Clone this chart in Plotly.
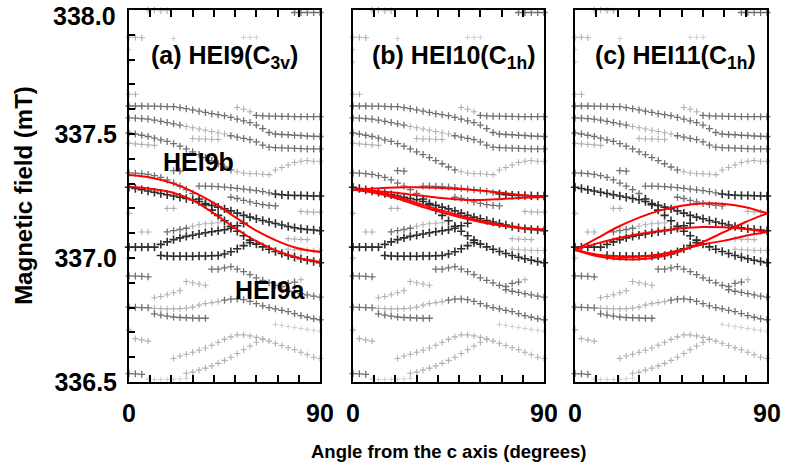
import plotly.graph_objects as go

STEP = 3  # angular step of the measured points (degrees)

# ---- experimental line positions (mT), each branch: start angle, values every 3 deg ----
T1 = (9, [338.0, 338.0, 337.997, 337.997])
T2 = (78, [337.99, 337.99, 337.99, 337.99, 337.99])
T3 = (0, [337.89, 337.89, 337.888])
T3b = (21, [337.885])
T3c = (54, [337.89, 337.89, 337.89])
T4a = (0, [337.84])
T4b = (0, [337.79])
T5 = (0, [337.66, 337.66])

R1 = (0, [337.613, 337.613, 337.613, 337.612, 337.612, 337.611, 337.61, 337.61,
          337.606, 337.602, 337.597, 337.592, 337.587, 337.582, 337.578, 337.574,
          337.567, 337.56, 337.553, 337.546, 337.536, 337.522, 337.506, 337.5,
          337.498, 337.497, 337.495, 337.494, 337.492, 337.491, 337.49])
R1b = (51, [337.607, 337.6, 337.59])
R1c = (60, [337.575, 337.573, 337.572, 337.572, 337.571, 337.571, 337.57, 337.57, 337.57, 337.57, 337.57])
R2a = (0, [337.565, 337.564, 337.562, 337.56, 337.556, 337.551, 337.546, 337.541, 337.536])
R2b = (27, [337.53, 337.525, 337.52, 337.515, 337.51, 337.505, 337.5])
R2c = (48, [337.493, 337.487, 337.482, 337.477, 337.468, 337.455, 337.447, 337.445,
            337.444, 337.443, 337.442, 337.441, 337.44, 337.44, 337.44])
R3 = (0, [337.504, 337.5, 337.495, 337.49, 337.483, 337.476, 337.47, 337.461, 337.451,
          337.44, 337.428, 337.417, 337.405, 337.393, 337.38, 337.367, 337.355])
R3b = (51, [337.348, 337.343, 337.34, 337.34, 337.338, 337.336])
R3c = (0, [337.462, 337.46, 337.458, 337.456, 337.454])
R3d = (30, [337.482, 337.48, 337.48, 337.479, 337.478])
L7 = (69, [337.355, 337.365, 337.375, 337.385, 337.39, 337.393, 337.39, 337.39])
S1 = (21, [337.352, 337.35])
R4a = (0, [337.343, 337.342, 337.34, 337.337, 337.332, 337.325, 337.315, 337.302, 337.29, 337.276, 337.26])
R4b = (33, [337.238, 337.215, 337.193, 337.172, 337.15, 337.128, 337.108, 337.09, 337.072, 337.056,
            337.045, 337.035, 337.026, 337.018, 337.01, 337.003, 336.997, 336.991, 336.986, 336.981])
R5 = (0, [337.285, 337.28, 337.275, 337.27, 337.265, 337.26, 337.255, 337.25, 337.245, 337.24,
          337.235, 337.228, 337.22, 337.212, 337.205, 337.198, 337.19, 337.181, 337.172, 337.165,
          337.158, 337.151, 337.145, 337.139, 337.133, 337.127, 337.122, 337.118, 337.115, 337.113, 337.11])
R6a = (33, [337.29, 337.29, 337.289, 337.288, 337.286, 337.284, 337.281, 337.278, 337.275, 337.272, 337.268, 337.263])
R6b = (69, [337.258, 337.255, 337.253, 337.252, 337.252, 337.251, 337.25, 337.25])
R7 = (48, [337.245, 337.24, 337.232, 337.226, 337.22, 337.215, 337.212, 337.21])
L1 = (0, [337.044, 337.044, 337.044, 337.044, 337.044])
C1 = (15, [337.055, 337.065, 337.074, 337.081, 337.087, 337.092, 337.097, 337.102, 337.106,
           337.11, 337.114, 337.12, 337.13, 337.14])
D1 = (15, [337.01, 337.008, 337.007, 337.007, 337.007, 337.007, 337.008, 337.008, 337.009,
           337.01, 337.016, 337.025, 337.037, 337.05, 337.062])
M1a = (18, [337.105, 337.11, 337.115, 337.12])
M1b = (30, [337.128, 337.134, 337.138, 337.14, 337.142])
M1c = (6, [337.105, 337.105])
Q1 = (18, [337.2, 337.2])
Q2 = (0, [337.18])
Q3 = (81, [337.188, 337.186, 337.185, 337.185])
Q4 = (75, [337.078, 337.076, 337.075, 337.074])
Q5 = (75, [337.035, 337.033, 337.032, 337.031, 337.03, 337.03])
Q6 = (0, [337.0])
M2 = (39, [336.955, 336.955, 336.96, 336.965, 336.955, 336.945, 336.933, 336.92, 336.91, 336.9, 336.89, 336.885])
M2b = (75, [336.898, 336.903])
M2c = (81, [336.912])
M3 = (72, [336.872, 336.866, 336.861, 336.856, 336.851, 336.846, 336.842])
M0 = (0, [336.928, 336.927, 336.926, 336.924])
LG = (27, [336.905, 336.9, 336.895, 336.89])
LR = (12, [336.84, 336.845, 336.852, 336.86, 336.868])
M4a = (0, [336.802, 336.801, 336.8, 336.799])
M4b = (12, [336.797, 336.796, 336.795, 336.795, 336.796, 336.798, 336.802, 336.81, 336.816, 336.82, 336.824])
M4c = (45, [336.83, 336.834, 336.835, 336.832, 336.825, 336.816, 336.807, 336.8, 336.795, 336.789,
            336.784, 336.776, 336.768, 336.761, 336.755, 336.751])
M5 = (12, [336.775, 336.77, 336.766, 336.762, 336.76, 336.759, 336.758, 336.757, 336.757])
L5 = (69, [336.732, 336.728, 336.724, 336.72, 336.716, 336.712, 336.708, 336.705])
Q7 = (0, [336.71])
Q8 = (3, [336.675, 336.67, 336.665])
L2 = (21, [336.595, 336.605, 336.612, 336.62, 336.628, 336.637, 336.648, 336.66, 336.672, 336.682,
           336.69, 336.69, 336.686, 336.68, 336.673, 336.665, 336.656, 336.647, 336.638, 336.63,
           336.62, 336.61, 336.6, 336.595])
L3 = (27, [336.535, 336.54, 336.548, 336.556, 336.565, 336.575, 336.587, 336.6, 336.615, 336.63,
           336.645, 336.66, 336.672])
L4 = (9, [336.512, 336.51, 336.51, 336.51, 336.51, 336.512, 336.515])
B0 = (0, [336.534, 336.533, 336.531])

DARK = [R5, R4b, R6b, L1, C1, D1]
MID = [R1, R1c, R2a, R2c, R3, R4a, R6a, R7, S1, M1a, M2, M2b, M3, M0, M4a, M4c, M5, B0, T2]
LIGHT = [T1, T3, T5, R1b, R2b, R3b, R3c, R3d, L7, M1b, M1c, Q1, Q2, Q3, Q4, Q5, Q6,
         M2c, LG, LR, M4b, Q7, Q8, L2, L3]
FAINT = [T3b, T3c, T4a, T4b, L5, L4]

# ---- simulated (red) curves ----
SIM_ANGLE = [0, 10, 20, 30, 40, 50, 60, 70, 80, 90]
A_UP = [337.335, 337.325, 337.303, 337.268, 337.222, 337.165, 337.11, 337.068, 337.038, 337.024]
A_LO = [337.287, 337.279, 337.265, 337.232, 337.18, 337.12, 337.068, 337.028, 337.0, 336.984]
B_1 = [337.275, 337.28, 337.284, 337.285, 337.283, 337.278, 337.272, 337.263, 337.253, 337.246]
B_2 = [337.275, 337.27, 337.263, 337.253, 337.243, 337.236, 337.234, 337.238, 337.243, 337.246]
B_3 = [337.275, 337.266, 337.248, 337.222, 337.196, 337.172, 337.15, 337.133, 337.121, 337.115]
B_4 = [337.275, 337.263, 337.242, 337.214, 337.188, 337.165, 337.145, 337.13, 337.12, 337.115]
C_1 = [337.032, 337.078, 337.125, 337.163, 337.192, 337.211, 337.22, 337.218, 337.205, 337.18]
C_2 = [337.032, 337.058, 337.08, 337.097, 337.11, 337.12, 337.125, 337.124, 337.117, 337.105]
C_3 = [337.032, 337.008, 336.996, 336.995, 337.005, 337.03, 337.065, 337.105, 337.145, 337.18]
C_4 = [337.032, 337.014, 337.005, 337.005, 337.015, 337.033, 337.055, 337.07, 337.09, 337.105]
SIMS = [[A_UP, A_LO], [B_1, B_2, B_3, B_4], [C_1, C_2, C_3, C_4]]

TITLES = ["<b>(a) HEI9(C<sub>3v</sub>)</b>", "<b>(b) HEI10(C<sub>1h</sub>)</b>",
          "<b>(c) HEI11(C<sub>1h</sub>)</b>"]
Y_TICKS = [336.5, 337.0, 337.5, 338.0]
Y_LABELS = ["336.5", "337.0", "337.5", ""]
Y_TOP_LABEL = "338.0"

FONT = "Liberation Sans, Arial, sans-serif"
SHADES = [(FAINT, "#d0d0d0", 4, 1.0), (LIGHT, "#b0b0b0", 4.5, 1.1),
          (MID, "#707070", 5, 1.3), (DARK, "#2e2e2e", 6, 1.6)]


def collect(branches):
    xs, ys = [], []
    for start, vals in branches:
        for i, v in enumerate(vals):
            xs.append(start + STEP * i)
            ys.append(v)
    return xs, ys


fig = go.Figure()
domains = [[0.0, 0.2994], [0.3511, 0.6505], [0.6991, 1.0]]
for p in range(3):
    xa = "x" if p == 0 else f"x{p+1}"
    ya = "y" if p == 0 else f"y{p+1}"
    for branches, col, size, lw in SHADES:
        xs, ys = collect(branches)
        fig.add_trace(go.Scatter(x=xs, y=ys, mode="markers", xaxis=xa, yaxis=ya,
                                 cliponaxis=False, showlegend=False, hoverinfo="skip",
                                 marker=dict(symbol="cross-thin", size=size,
                                             line=dict(width=lw, color=col))))
    for curve in SIMS[p]:
        fig.add_trace(go.Scatter(x=SIM_ANGLE, y=curve, mode="lines", xaxis=xa, yaxis=ya,
                                 line=dict(color="#ff0000", width=2, shape="spline"),
                                 showlegend=False, hoverinfo="skip"))

xt = list(range(0, 91, 10))
xtt = ["0"] + [""] * 8 + ["90"]
for p in range(3):
    key = "xaxis" if p == 0 else f"xaxis{p+1}"
    ykey = "yaxis" if p == 0 else f"yaxis{p+1}"
    ya = "y" if p == 0 else f"y{p+1}"
    xa = "x" if p == 0 else f"x{p+1}"
    fig.layout[key] = dict(domain=domains[p], range=[0, 90], anchor=ya, automargin=False,
                           tickvals=xt, ticktext=xtt, ticks="inside", ticklen=7,
                           tickwidth=2, tickcolor="black", showline=True, linewidth=2,
                           linecolor="black", mirror="ticks", showgrid=False, zeroline=False,
                           ticklabelstandoff=8, ticklabeloverflow="allow",
                           tickfont=dict(family=FONT, size=25, color="black", weight="bold"))
    ycfg = dict(domain=[0, 1], range=[336.5, 338.0], anchor=xa, showline=True, automargin=False,
                linewidth=2, linecolor="black", mirror=True, showgrid=False, zeroline=False)
    if p == 0:
        ycfg.update(tickvals=Y_TICKS, ticktext=Y_LABELS,
                    ticks="inside", ticklen=6, tickwidth=2, tickcolor="black",
                    ticklabelstandoff=5, ticklabeloverflow="allow",
                    minor=dict(dtick=0.1, ticks="inside", ticklen=6, tickwidth=1.5,
                               tickcolor="black"),
                    tickfont=dict(family=FONT, size=25, color="black", weight="bold"))
    else:
        ycfg.update(showticklabels=False, ticks="")
    fig.layout[ykey] = ycfg

annots = []
title_x = [9.5, 8.0, 8.5]
for p in range(3):
    xa = "x" if p == 0 else f"x{p+1}"
    ya = "y" if p == 0 else f"y{p+1}"
    annots.append(dict(text=TITLES[p], x=title_x[p], y=337.81, xref=xa, yref=ya,
                       xanchor="left", yanchor="middle", showarrow=False,
                       font=dict(family=FONT, size=25, color="black")))
annots.append(dict(text="<b>HEI9b</b>", x=15, y=337.387, xref="x", yref="y",
                   xanchor="left", yanchor="middle", showarrow=False,
                   font=dict(family=FONT, size=25, color="black")))
annots.append(dict(text="<b>HEI9a</b>", x=49, y=336.871, xref="x", yref="y",
                   xanchor="left", yanchor="middle", showarrow=False,
                   font=dict(family=FONT, size=25, color="black")))
annots.append(dict(text="<b>" + Y_TOP_LABEL + "</b>", x=-0.0165, y=1.0, yshift=10,
                   xref="paper", yref="paper", xanchor="right", yanchor="top",
                   showarrow=False, font=dict(family=FONT, size=25, color="black")))
annots.append(dict(text="<b>Angle from the c axis (degrees)</b>", x=0.501, y=-0.188,
                   xref="paper", yref="paper", xanchor="center", yanchor="middle",
                   showarrow=False, font=dict(family=FONT, size=18.5, color="black")))
annots.append(dict(text="<b>Magnetic field (mT)</b>", x=-0.1646, y=0.503, textangle=-90,
                   xref="paper", yref="paper", xanchor="center", yanchor="middle",
                   showarrow=False, font=dict(family=FONT, size=24, color="black")))

fig.update_layout(width=794, height=475, margin=dict(l=129, r=27, t=10, b=93),
                  paper_bgcolor="white", plot_bgcolor="white", annotations=annots,
                  font=dict(family=FONT, color="black"))

fig.write_html("out.html", config={"displayModeBar": False},
               post_script="document.body.style.margin='0px';")
